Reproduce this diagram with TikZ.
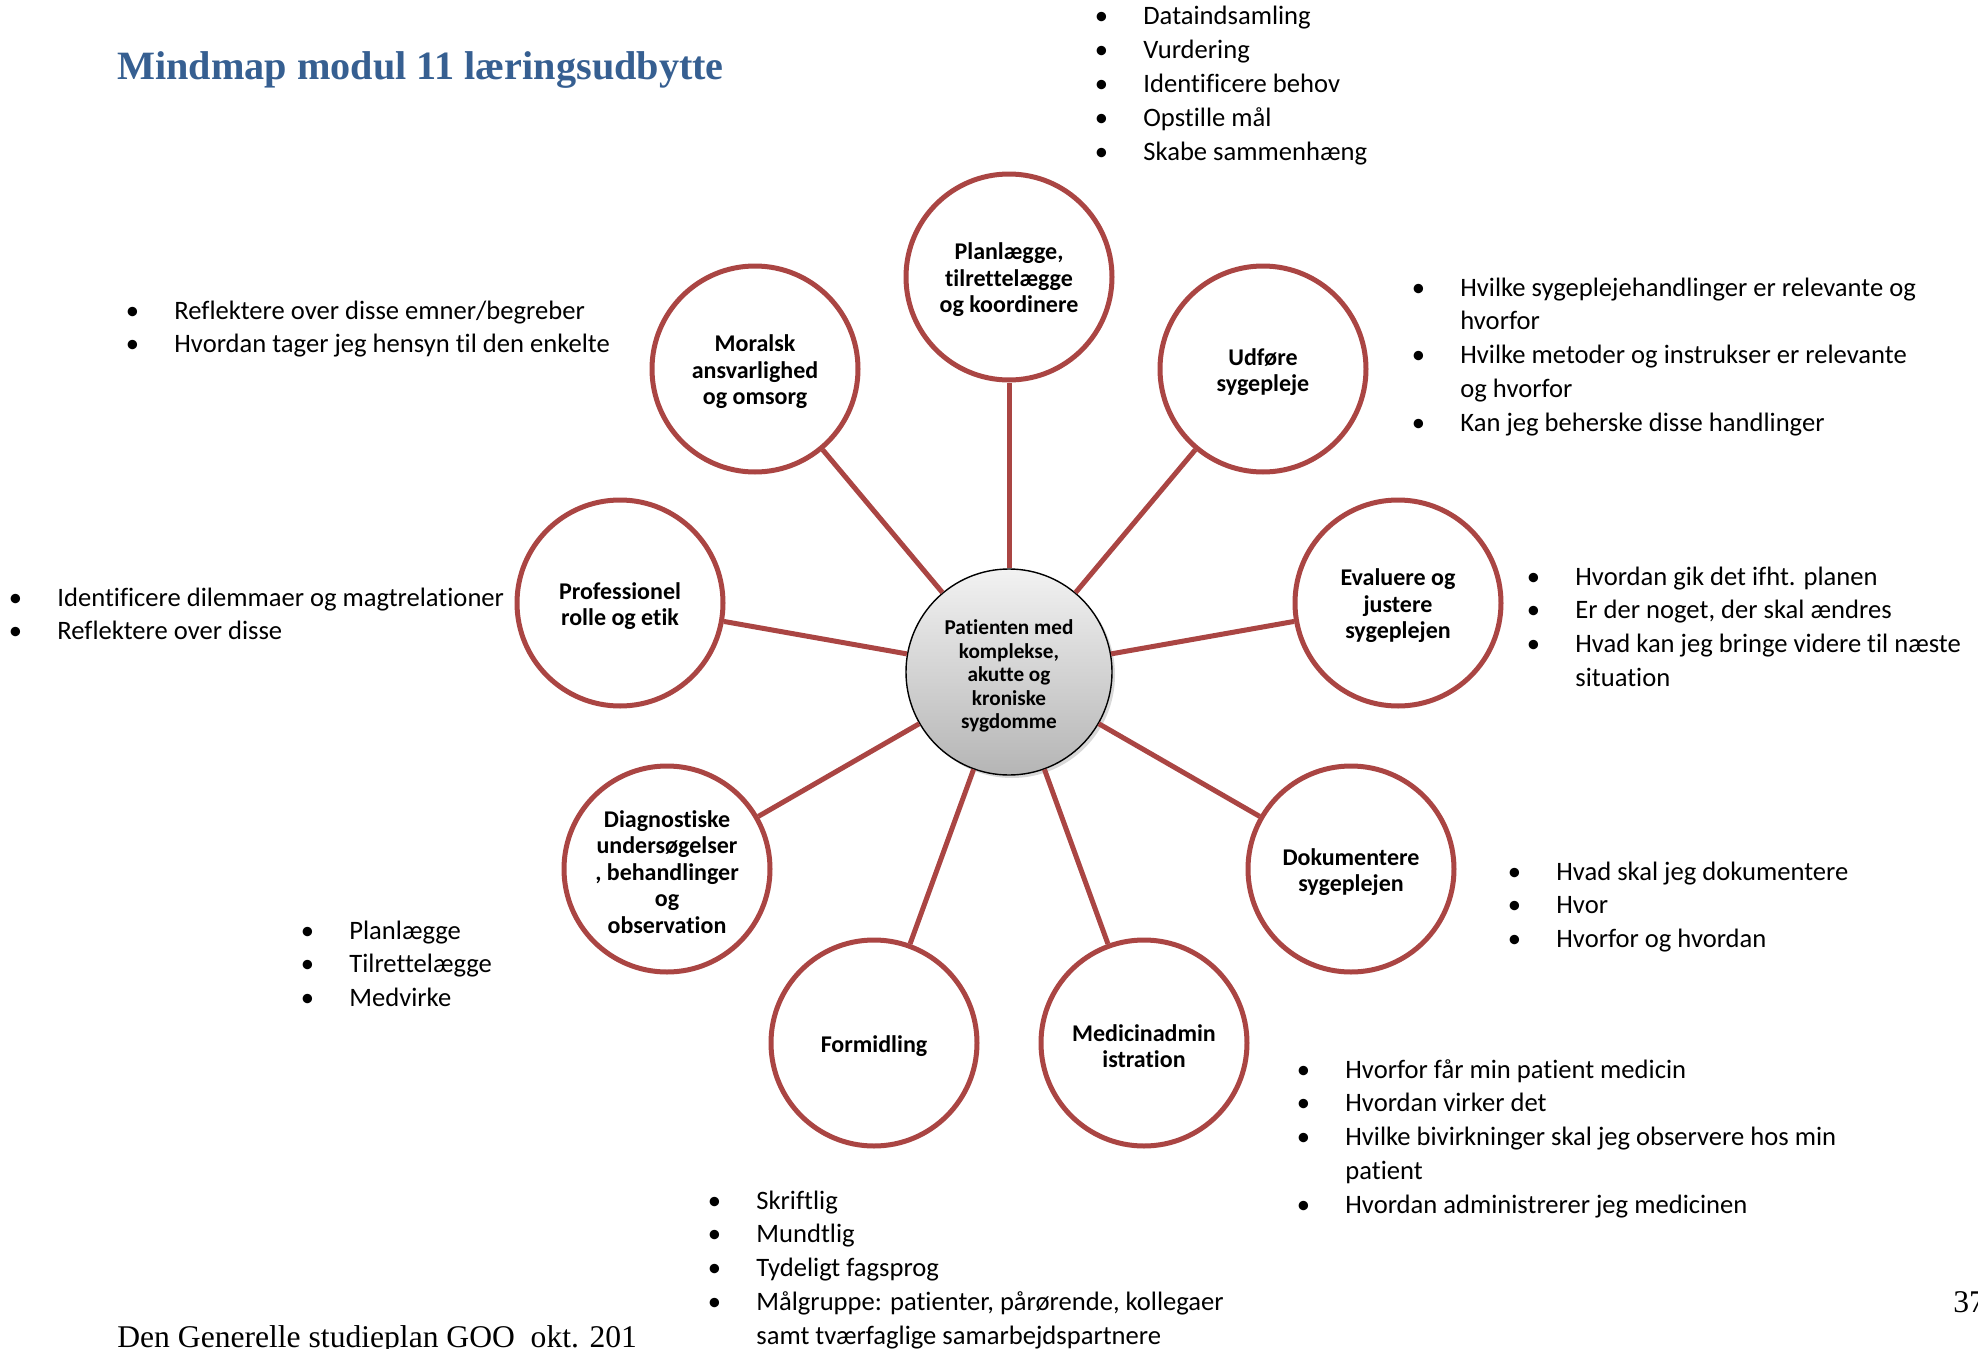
\documentclass[tikz,border=0pt]{standalone}
\usepackage{fontspec}
\usepackage{tikz}
\usetikzlibrary{shadows}
\setmainfont{Carlito}[Ligatures={NoCommon}]
\newfontfamily\serifFont{Liberation Serif}
\newcommand{\circleSize}[0]{103pt}
\newcommand{\spokeWidth}[0]{2.5pt}
\newcommand{\bulletGap}[0]{42pt}
\newcommand{\lineRise}[0]{\rule{0pt}{11.4pt}}
\newcommand{\listPoint}[1]{\makebox[\bulletGap][c]{\textbullet}#1}
\newcommand{\listMore}[1]{\hspace*{\bulletGap}#1}
\newcommand{\listBlock}[1]{\begin{tabular}[t]{@{}l@{}}#1\end{tabular}}
\definecolor{circlered}{HTML}{AA4543}
\definecolor{headingblue}{HTML}{365F91}
\definecolor{hubtop}{HTML}{F2F2F2}
\definecolor{hubbottom}{HTML}{B5B5B5}

\begin{document}
\begin{tikzpicture}[x=0.5pt, y=-0.5pt]
  \tikzset{
    topic/.style={circle, draw=circlered, line width=\spokeWidth, fill=white,
      minimum size=\circleSize, inner sep=0pt, align=center,
      font=\bfseries\fontsize{12}{13.2}\selectfont},
    hub/.style={circle, draw=black, line width=0.7pt, top color=hubtop,
      bottom color=hubbottom, minimum size=\circleSize, inner sep=0pt, align=center,
      font=\bfseries\fontsize{10.6}{11.8}\selectfont,
      drop shadow={shadow xshift=1.5pt, shadow yshift=-1.5pt, opacity=0.3}},
    spoke/.style={circlered, line width=\spokeWidth},
    notes/.style={anchor=base west, inner sep=0pt, font=\fontsize{13.3}{16.9}\selectfont}
  }
  \useasboundingbox (0,0) rectangle (1978,1349);
  \fill[white] (0,0) rectangle (1978,1349);
  \clip (0,0) rectangle (1978,1349);

  \node[anchor=base west, inner sep=0pt, text=headingblue,
    font=\serifFont\bfseries\fontsize{20.1}{24}\selectfont](title) at (117,79)
    {Mindmap modul 11 læringsudbytte};

  \node[hub](hub) at (1009,672) {\lineRise Patienten med\\komplekse,\\akutte og\\kroniske\\sygdomme};
  \node[topic](plan) at (1009,277) {\lineRise Planlægge,\\tilrettelægge\\og koordinere};
  \node[topic](moral) at (755,369) {\lineRise Moralsk\\ansvarlighed\\og omsorg};
  \node[topic](udf) at (1263,369) {\lineRise Udføre\\sygepleje};
  \node[topic](prof) at (620,603) {\lineRise Professionel\\rolle og etik};
  \node[topic](eval) at (1398,603) {\lineRise Evaluere og\\justere\\sygeplejen};
  \node[topic](diag) at (667,869) {\lineRise Diagnostiske\\undersøgelser\\, behandlinger\\og\\observation};
  \node[topic](dok) at (1351,869) {\lineRise Dokumentere\\sygeplejen};
  \node[topic](form) at (874,1043) {\lineRise Formidling};
  \node[topic](med) at (1144,1043) {\lineRise Medicinadmin\\istration};

  \draw[spoke] (hub) -- (plan);
  \draw[spoke] (hub) -- (moral);
  \draw[spoke] (hub) -- (udf);
  \draw[spoke] (hub) -- (prof);
  \draw[spoke] (hub) -- (eval);
  \draw[spoke] (hub) -- (diag);
  \draw[spoke] (hub) -- (dok);
  \draw[spoke] (hub) -- (form);
  \draw[spoke] (hub) -- (med);

  \node[notes](plan-notes) at (1059,25) {\listBlock{%
    \listPoint{Dataindsamling}\\
    \listPoint{Vurdering}\\
    \listPoint{Identificere behov}\\
    \listPoint{Opstille mål}\\
    \listPoint{Skabe sammenhæng}}};
  \node[notes](moral-notes) at (90,319) {\listBlock{%
    \listPoint{Reflektere over disse emner/begreber}\\
    \listPoint{Hvordan tager jeg hensyn til den enkelte}}};
  \node[notes](udf-notes) at (1376,296) {\listBlock{%
    \listPoint{Hvilke sygeplejehandlinger er relevante og}\\
    \listMore{hvorfor}\\
    \listPoint{Hvilke metoder og instrukser er relevante}\\
    \listMore{og hvorfor}\\
    \listPoint{Kan jeg beherske disse handlinger}}};
  \node[notes](prof-notes) at (-27,606) {\listBlock{%
    \listPoint{Identificere dilemmaer og magtrelationer}\\
    \listPoint{Reflektere over disse}}};
  \node[notes](eval-notes) at (1491,585) {\listBlock{%
    \listPoint{Hvordan gik det ifht. planen}\\
    \listPoint{Er der noget, der skal ændres}\\
    \listPoint{Hvad kan jeg bringe videre til næste}\\
    \listMore{situation}}};
  \node[notes](diag-notes) at (265,939) {\listBlock{%
    \listPoint{Planlægge}\\
    \listPoint{Tilrettelægge}\\
    \listPoint{Medvirke}}};
  \node[notes](dok-notes) at (1472,880) {\listBlock{%
    \listPoint{Hvad skal jeg dokumentere}\\
    \listPoint{Hvor}\\
    \listPoint{Hvorfor og hvordan}}};
  \node[notes](med-notes) at (1261,1078) {\listBlock{%
    \listPoint{Hvorfor får min patient medicin}\\
    \listPoint{Hvordan virker det}\\
    \listPoint{Hvilke bivirkninger skal jeg observere hos min}\\
    \listMore{patient}\\
    \listPoint{Hvordan administrerer jeg medicinen}}};
  \node[notes](form-notes) at (672,1209) {\listBlock{%
    \listPoint{Skriftlig}\\
    \listPoint{Mundtlig}\\
    \listPoint{Tydeligt fagsprog}\\
    \listPoint{Målgruppe: patienter, pårørende, kollegaer}\\
    \listMore{samt tværfaglige samarbejdspartnere}}};

  \node[anchor=base west, inner sep=0pt, font=\serifFont\fontsize{15.8}{18}\selectfont](footer)
    at (117,1347) {Den Generelle studieplan GOO~ okt. 201};
  \node[anchor=base west, inner sep=0pt, font=\serifFont\fontsize{15.8}{18}\selectfont](page)
    at (1953,1312) {37};
\end{tikzpicture}
\end{document}
